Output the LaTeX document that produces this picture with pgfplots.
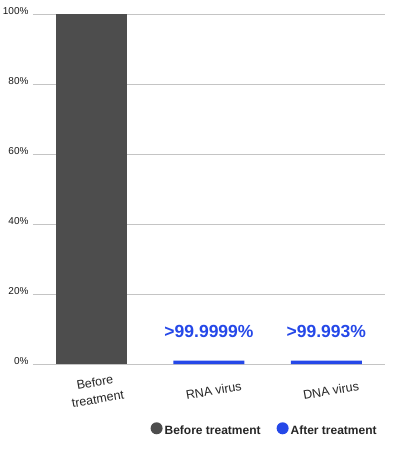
\documentclass[border=0pt]{standalone}
\usepackage{pgfplots}
\pgfplotsset{compat=1.18}
\usepackage{fontspec}
\setmainfont{Liberation Sans}
\definecolor{barGray}{HTML}{4D4D4D}
\definecolor{barBlue}{HTML}{2548E8}
\definecolor{gridGray}{HTML}{C4C4C4}
\begin{document}
\begin{tikzpicture}[x=1pt,y=1pt]
\begin{axis}[
    at={(33pt,87pt)}, anchor=south west,
    width=352pt, height=350pt, scale only axis,
    ybar, bar width=71pt,
    xmin=-0.5, xmax=2.5,
    ymin=0, ymax=100,
    xtick={0,1,2},
    xticklabels={{Before\\[3pt]treatment},{RNA virus},{DNA virus}},
    xticklabel style={rotate=10, anchor=center, align=center, yshift=-27pt, font=\fontsize{12.5}{14}\selectfont, text=black!85},
    ytick={0,20,40,60,80,100},
    yticklabel={\pgfmathprintnumber{\tick}\%},
    yticklabel style={font=\fontsize{10}{12}\selectfont, text=black!90, xshift=-1pt, yshift=3pt},
    /pgf/number format/assume math mode=true,
    ymajorgrids=true,
    grid style={gridGray, line width=0.8pt},
    axis line style={draw=none},
    major tick length=0pt,
    tick style={draw=none},
    legend columns=2,
    legend style={at={(0.658,-0.189)}, anchor=center, draw=none, fill=none,
        font=\bfseries\fontsize{12}{14}\selectfont, text=black!85,
        /tikz/every even column/.append style={column sep=14pt}},
    nodes near coords,
    point meta=explicit symbolic,
    nodes near coords style={anchor=base, yshift=23pt, text=barBlue, font=\bfseries\fontsize{17.5}{19}\selectfont},
]
\addplot[fill=barGray, draw=none, bar shift=0pt,
    legend image code/.code={\fill[barGray] (2pt,0.5ex) circle (6pt);}]
    coordinates {(0,100) []};
\addplot[fill=barBlue, draw=none, bar shift=0pt,
    legend image code/.code={\fill[barBlue] (2pt,0.5ex) circle (6pt);}]
    coordinates {(1,1) [>99.9999\%] (2,1) [>99.993\%]};
\legend{Before treatment, After treatment}
\end{axis}
\pgfresetboundingbox
\useasboundingbox (0,0) rectangle (401,451);
\end{tikzpicture}
\end{document}
